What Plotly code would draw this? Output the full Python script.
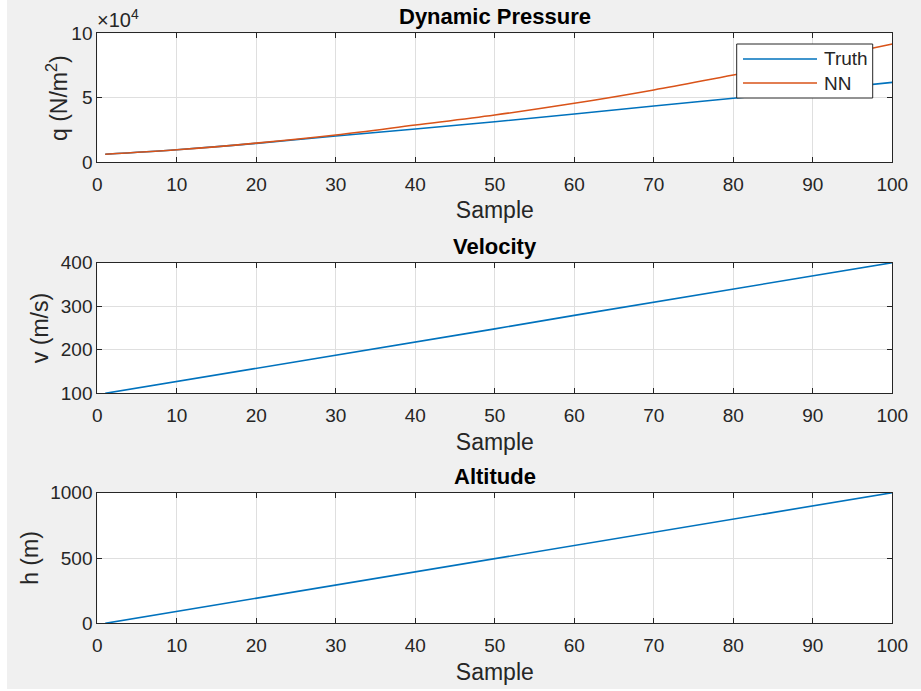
import plotly.graph_objects as go

# ---- data ----
sample = [1, 10, 20, 30, 40, 50, 60, 70, 80, 90, 100]
q_truth = [6000, 9500, 14500, 20200, 25600, 31300, 37300, 43500, 49500, 55500, 61900]
q_nn = [6000, 9500, 14700, 21000, 28700, 36500, 45600, 56000, 67600, 79000, 91700]
velocity = [100, 127, 158, 188, 218, 248, 279, 309, 339, 370, 400]
altitude = [0, 91, 192, 293, 394, 495, 596, 697, 798, 899, 1000]
x_ticks = [0, 10, 20, 30, 40, 50, 60, 70, 80, 90, 100]
series_names = ["Truth", "NN"]

BLUE = "#0072BD"
ORANGE = "#D95319"
AX = "#262626"
GRID = "#dfdfdf"
FONT = "Liberation Sans, Arial, sans-serif"
TICK = 19
LABEL = 23

W, H = 921, 691
xdom = [97.3 / W, 892.3 / W]
def ydom(top, bottom):
    return [1 - bottom / H, 1 - top / H]
def px(x):
    return x / W
def py(y):
    return 1 - y / H

fig = go.Figure()
fig.add_trace(go.Scatter(x=sample, y=q_truth, mode="lines", name=series_names[0],
                         line=dict(color=BLUE, width=1.6), line_shape="spline",
                         xaxis="x", yaxis="y"))
fig.add_trace(go.Scatter(x=sample, y=q_nn, mode="lines", name=series_names[1],
                         line=dict(color=ORANGE, width=1.6), line_shape="spline",
                         xaxis="x", yaxis="y"))
fig.add_trace(go.Scatter(x=sample, y=velocity, mode="lines",
                         line=dict(color=BLUE, width=1.6), xaxis="x2", yaxis="y2"))
fig.add_trace(go.Scatter(x=sample, y=altitude, mode="lines",
                         line=dict(color=BLUE, width=1.6), xaxis="x3", yaxis="y3"))

def xaxis(anchor):
    return dict(domain=xdom, anchor=anchor, range=[0, 100], tickvals=x_ticks,
                automargin=False, ticklabelstandoff=5,
                showline=True, linecolor=AX, linewidth=1, mirror="ticks",
                ticks="inside", ticklen=5, tickcolor=AX, showgrid=True,
                gridcolor=GRID, gridwidth=1, zeroline=False,
                tickfont=dict(family=FONT, size=TICK, color=AX),
                title=dict(text="Sample", standoff=8,
                           font=dict(family=FONT, size=LABEL, color=AX)))

def yaxis(anchor, dom, rng, tv, tt, title, standoff):
    return dict(domain=dom, anchor=anchor, range=rng, tickvals=tv, ticktext=tt,
                automargin=False,
                showline=True, linecolor=AX, linewidth=1, mirror="ticks",
                ticks="inside", ticklen=5, tickcolor=AX, showgrid=True,
                gridcolor=GRID, gridwidth=1, zeroline=False,
                tickfont=dict(family=FONT, size=TICK, color=AX),
                title=dict(text=title, standoff=standoff,
                           font=dict(family=FONT, size=LABEL, color=AX)))

fig.update_layout(
    width=W, height=H,
    margin=dict(l=0, r=0, t=0, b=0, pad=0, autoexpand=False),
    paper_bgcolor="#f0f0f0", plot_bgcolor="white",
    font=dict(family=FONT, color=AX),
    showlegend=False,
    xaxis=xaxis("y"),
    yaxis=yaxis("x", ydom(33.3, 162), [0, 100000], [0, 50000, 100000], ["0", "5", "10"],
                "", 2),
    xaxis2=xaxis("y2"),
    yaxis2=yaxis("x2", ydom(262.7, 393.3), [100, 400], [100, 200, 300, 400],
                 ["100", "200", "300", "400"], "v (m/s)", 5),
    xaxis3=xaxis("y3"),
    yaxis3=yaxis("x3", ydom(492.7, 623.3), [0, 1000], [0, 500, 1000],
                 ["0", "500", "1000"], "h (m)", 5),
)

# y title of the first panel (placed directly)
fig.add_annotation(text="q (N/m<sup>2</sup>)", xref="paper", yref="paper",
                   x=px(57), y=py(98), showarrow=False, textangle=-90,
                   xanchor="center", yanchor="middle",
                   font=dict(family=FONT, size=LABEL, color=AX))

# subplot titles
titles = [("Dynamic Pressure", 16), ("Velocity", 246), ("Altitude", 476)]
for txt, yc in titles:
    fig.add_annotation(text="<b>" + txt + "</b>", xref="paper", yref="paper",
                       x=(xdom[0] + xdom[1]) / 2, y=py(yc), showarrow=False,
                       xanchor="center", yanchor="middle",
                       font=dict(family=FONT, size=22, color="black"))

# exponent label
fig.add_annotation(text="×10<sup>4</sup>", xref="paper", yref="paper",
                   x=px(95), y=py(18), showarrow=False, xanchor="left",
                   yanchor="middle", font=dict(family=FONT, size=20, color=AX))

# MATLAB-style legend box
fig.add_shape(type="rect", xref="paper", yref="paper",
              x0=px(736.7), x1=px(872.7), y0=py(98), y1=py(44),
              fillcolor="white", line=dict(color=AX, width=1), layer="above")
for name, color, yc in [(series_names[0], BLUE, 59), (series_names[1], ORANGE, 83)]:
    fig.add_shape(type="line", xref="paper", yref="paper",
                  x0=px(743), x1=px(817), y0=py(yc), y1=py(yc),
                  line=dict(color=color, width=1.6), layer="above")
    fig.add_annotation(text=name, xref="paper", yref="paper",
                       x=px(822), y=py(yc), showarrow=False, xanchor="left",
                       yanchor="middle", font=dict(family=FONT, size=19, color=AX))

# thin white border of the screenshot (left and bottom)
fig.add_shape(type="rect", xref="paper", yref="paper", x0=0, x1=px(7), y0=0, y1=1,
              fillcolor="white", line=dict(width=0), layer="below")
fig.add_shape(type="rect", xref="paper", yref="paper", x0=0, x1=1, y0=0, y1=2 / H,
              fillcolor="white", line=dict(width=0), layer="below")

fig.write_html("out.html")
